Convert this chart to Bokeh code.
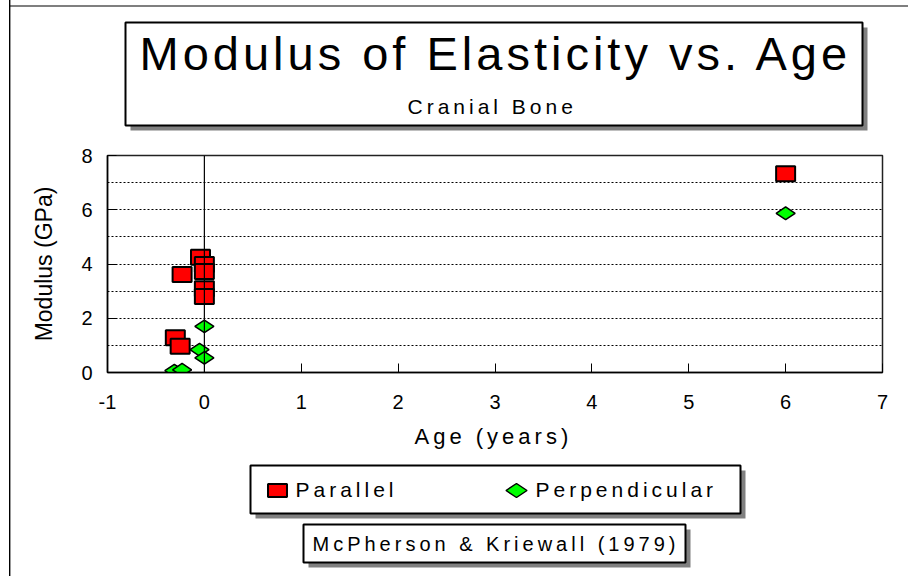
import math
from bokeh.plotting import figure
from bokeh.layouts import column
from bokeh.models import Range1d, Label, Span, FixedTicker, PrintfTickFormatter
from bokeh.embed import file_html
from bokeh.resources import INLINE

# ---------------- data ----------------
parallel_age = [-0.30, -0.25, -0.23, -0.04, 0.0, 0.0, 0.0, 0.0, 6.0]
parallel_mod = [1.28, 0.97, 3.61, 4.25, 3.98, 3.72, 3.09, 2.80, 7.33]
perp_age = [-0.31, -0.23, -0.05, 0.0, 0.0, 6.0]
perp_mod = [0.07, 0.10, 0.84, 0.54, 1.70, 5.87]

title_text = "Modulus of Elasticity vs. Age"
subtitle_text = "Cranial Bone"
x_label = "Age (years)"
y_label = "Modulus (GPa)"
series_names = ["Parallel", "Perpendicular"]
source_text = "McPherson & Kriewall (1979)"
x_ticks = [-1, 0, 1, 2, 3, 4, 5, 6, 7]
y_ticks = [0, 2, 4, 6, 8]
y_grid_ticks = [1, 2, 3, 4, 5, 6, 7]

FONT = "Liberation Sans"
RED = "#ff0000"
GREEN = "#00ff00"
SHADOW = "#808080"

W = 908
H1, H2, H3 = 143, 277, 156


def blank(h, spacing):
    f = figure(width=W, height=h, x_range=Range1d(0, W), y_range=Range1d(h, 0),
               output_backend="svg", toolbar_location=None, min_border=0,
               x_axis_type=None, y_axis_type=None, outline_line_color=None,
               border_fill_alpha=0, background_fill_alpha=0, frame_align=False,
               styles={"letter-spacing": spacing})
    return f


def label(f, x, baseline, text, size):
    # the label is anchored slightly above the glyph baseline; compensate
    f.add_layout(Label(x=x, y=baseline - 0.36 * size, text=text, text_font=FONT,
                       text_font_size=f"{size}px", text_align="left",
                       text_baseline="alphabetic", text_color="black"))


# ---------------- title area ----------------
top = blank(H1, "4px")
top.quad(left=[9], right=[W], top=[5], bottom=[6], fill_color="black", line_color=None)
top.quad(left=[130], right=[867], top=[27], bottom=[130], fill_color=SHADOW, line_color=None)
top.quad(left=[125], right=[862], top=[22], bottom=[125], fill_color="white",
         line_color="black", line_width=2)
label(top, 139, 70, title_text, 47)
label(top, 407, 114, subtitle_text, 21)

# ---------------- main chart ----------------
p = figure(width=W, height=H2, x_range=Range1d(-1, 7), y_range=Range1d(0, 8),
           output_backend="svg", toolbar_location=None, frame_align=False,
           min_border_left=107, min_border_right=26, min_border_top=12, min_border_bottom=48,
           border_fill_alpha=0, background_fill_color="white",
           outline_line_color="#222222", outline_line_width=1.5)

p.xaxis.ticker = FixedTicker(ticks=x_ticks)
p.yaxis.ticker = FixedTicker(ticks=y_ticks)
for ax in (p.xaxis, p.yaxis):
    ax.formatter = PrintfTickFormatter(format="%d")
    ax.major_tick_in = 9
    ax.major_tick_out = 0
    ax.minor_tick_line_color = None
    ax.axis_line_color = "black"
    ax.axis_line_width = 1.5
    ax.major_tick_line_color = "black"
    ax.major_label_text_font = FONT
    ax.major_label_text_font_size = "20px"
    ax.major_label_text_color = "black"
    ax.axis_label_text_font = FONT
    ax.axis_label_text_font_style = "normal"
    ax.axis_label_text_color = "black"
p.yaxis.axis_label = y_label
p.yaxis.axis_label_text_font_size = "23px"
p.xaxis.major_label_standoff = 22
p.yaxis.major_label_standoff = 15
p.yaxis.axis_label_standoff = 21

p.xgrid.grid_line_color = None
p.ygrid.ticker = FixedTicker(ticks=y_grid_ticks)
p.ygrid.grid_line_color = "black"
p.ygrid.grid_line_dash = "2 2"
p.ygrid.grid_line_width = 1

p.add_layout(Span(location=0, dimension="height", line_color="black", line_width=1.2))

p.rect(x=parallel_age, y=parallel_mod, width=19, height=15, width_units="screen",
       height_units="screen", fill_color=RED, line_color="black", line_width=2)
p.scatter(x=perp_age, y=perp_mod, marker="diamond", angle=math.pi / 2, size=19,
          fill_color=GREEN, line_color="black", line_width=1.5)

# ---------------- x label, legend and source ----------------
OY = 420  # screen y of the top of this figure
bot = blank(H3, "4px")
label(bot, 414, 444 - OY, x_label, 22)
bot.quad(left=[255], right=[745], top=[470 - OY], bottom=[518 - OY], fill_color=SHADOW, line_color=None)
bot.quad(left=[250], right=[740], top=[465 - OY], bottom=[513 - OY], fill_color="white",
         line_color="black", line_width=2)
bot.rect(x=[277], y=[490 - OY], width=19, height=13, fill_color=RED, line_color="black", line_width=2)
bot.scatter(x=[516], y=[490 - OY], marker="diamond", angle=math.pi / 2, size=21,
            fill_color=GREEN, line_color="black", line_width=1.5)
label(bot, 295, 497 - OY, series_names[0], 21)
label(bot, 535, 497 - OY, series_names[1], 21)
bot.quad(left=[308], right=[690], top=[529 - OY], bottom=[567 - OY], fill_color=SHADOW, line_color=None)
bot.quad(left=[303], right=[685], top=[524 - OY], bottom=[562 - OY], fill_color="white",
         line_color="black", line_width=2)
label(bot, 312, 551 - OY, source_text, 20)

layout = column(top, p, bot, styles={
    "background-image": "linear-gradient(to right, transparent 9px, #000 9px, #000 10px, "
                        "#999 10px, #999 11px, transparent 11px)"})

with open("out.html", "w") as fh:
    fh.write(file_html(layout, INLINE))
